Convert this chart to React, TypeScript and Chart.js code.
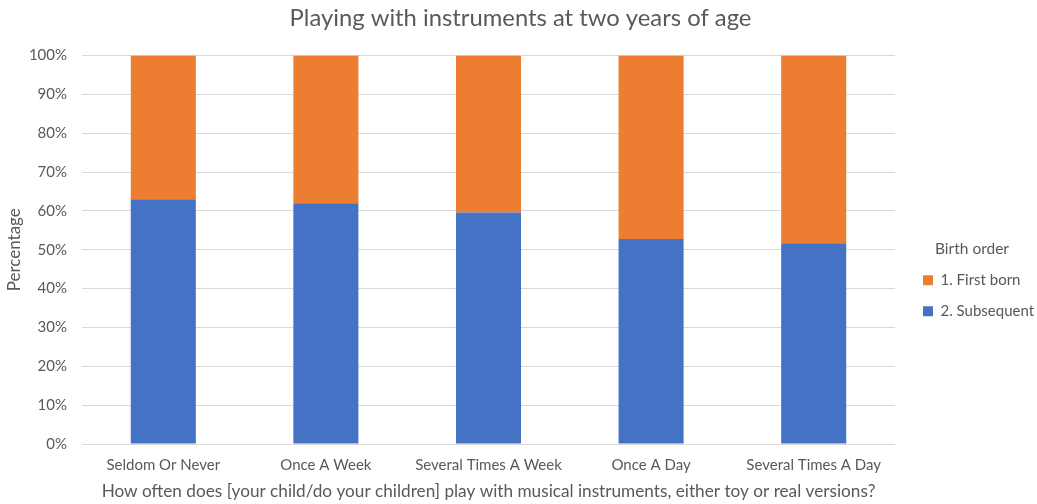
import React, { useEffect, useRef } from "react";
import { Chart, registerables } from "chart.js";

Chart.register(...registerables);

// Frequency of play with musical instruments at age two
const categories = [
  "Seldom Or Never",
  "Once A Week",
  "Several Times A Week",
  "Once A Day",
  "Several Times A Day",
];

// Share of children by birth order (percent of each category)
const subsequentPct = [63.0, 62.0, 59.6, 52.8, 51.7];
const firstBornPct = [37.0, 38.0, 40.4, 47.2, 48.3];

const seriesNames = ["2. Subsequent", "1. First born"];
const seriesColors = ["#4472C4", "#ED7D31"];

const chartTitle = "Playing with instruments at two years of age";
const xTitle =
  "How often does [your child/do your children] play with musical instruments, either toy or real versions?";
const yTitle = "Percentage";
const legendTitle = "Birth order";

const FONT = "Lato, 'Open Sans', sans-serif";
const TEXT = "#595959";

export default function App() {
  const canvasRef = useRef<HTMLCanvasElement | null>(null);

  useEffect(() => {
    document.body.style.margin = "0";
    const canvas = canvasRef.current;
    if (!canvas) return;
    const chart = new Chart(canvas, {
      type: "bar",
      data: {
        labels: categories,
        datasets: [
          {
            label: seriesNames[0],
            data: subsequentPct,
            backgroundColor: seriesColors[0],
            barPercentage: 0.4,
            categoryPercentage: 1,
          },
          {
            label: seriesNames[1],
            data: firstBornPct,
            backgroundColor: seriesColors[1],
            barPercentage: 0.4,
            categoryPercentage: 1,
          },
        ],
      },
      options: {
        animation: false,
        responsive: false,
        maintainAspectRatio: false,
        layout: { padding: { top: 4, right: 0, bottom: 2, left: 4 } },
        plugins: {
          title: {
            display: true,
            text: chartTitle,
            color: TEXT,
            font: { family: FONT, size: 23.8, weight: "normal", lineHeight: 1.2 },
            padding: { top: 0, bottom: 23 },
          },
          legend: {
            position: "right",
            reverse: true,
            maxWidth: 130,
            title: {
              display: true,
              text: legendTitle,
              color: TEXT,
              font: { family: FONT, size: 15.5, lineHeight: 1 },
              padding: { top: 70, bottom: 0 },
            },
            labels: {
              color: TEXT,
              font: { family: FONT, size: 15 },
              boxWidth: 10,
              boxHeight: 10,
              padding: 16,
            },
          },
          tooltip: { enabled: false },
        },
        scales: {
          x: {
            stacked: true,
            grid: { display: false, drawTicks: false },
            border: { display: false },
            ticks: {
              color: TEXT,
              font: { family: FONT, size: 15 },
              maxRotation: 0,
              autoSkip: false,
              padding: 12,
            },
            title: {
              display: true,
              text: xTitle,
              color: TEXT,
              font: { family: FONT, size: 17.2 },
              padding: { top: 7.6, bottom: 0 },
            },
            afterFit: (scale) => {
              // tick padding + label line + title block
              scale.height = 58;
            },
          },
          y: {
            stacked: true,
            min: 0,
            max: 100,
            grid: { color: "#D9D9D9", lineWidth: 1, drawTicks: false },
            border: { display: false },
            ticks: {
              stepSize: 10,
              color: TEXT,
              font: { family: FONT, size: 15 },
              padding: 15,
              callback: (v) => `${v}%`,
            },
            title: {
              display: true,
              text: yTitle,
              color: TEXT,
              font: { family: FONT, size: 17 },
              padding: { top: 0, bottom: 6 },
            },
            afterFit: (scale) => {
              scale.width = 78;
            },
          },
          // empty spacer between the plot and the legend
          gap: {
            type: "linear",
            position: "right",
            display: true,
            grid: { display: false, drawTicks: false },
            border: { display: false },
            ticks: { display: false },
            afterFit: (scale) => {
              scale.width = 12;
            },
          },
        },
      },
    });
    return () => chart.destroy();
  }, []);

  return (
    <div style={{ width: 1037, height: 504, background: "#fff" }}>
      <canvas ref={canvasRef} width={1037} height={504} />
    </div>
  );
}
